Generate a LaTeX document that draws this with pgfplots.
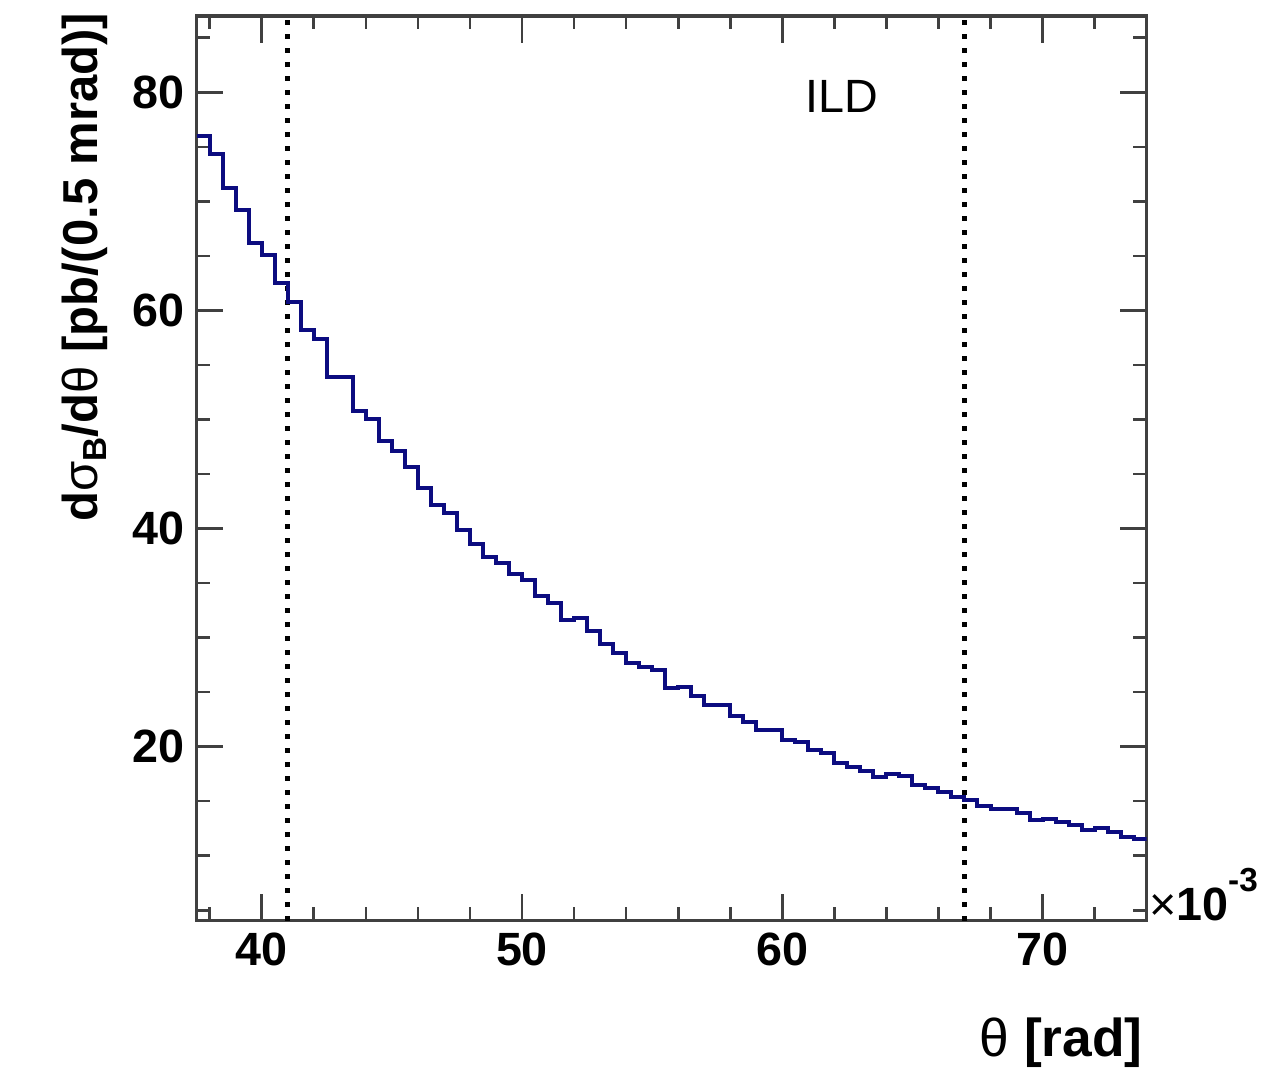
\documentclass[border=0pt]{standalone}
\usepackage{fontspec}
\setmainfont{Liberation Sans}
\usepackage{pgfplots}
\pgfplotsset{compat=1.18}
\definecolor{rootblue}{RGB}{12,12,128}
\pgfplotstableread{
x y
37.5 76.0
38.0 74.3
38.5 71.2
39.0 69.2
39.5 66.2
40.0 65.1
40.5 62.5
41.0 60.8
41.5 58.2
42.0 57.4
42.5 53.9
43.0 53.9
43.5 50.8
44.0 50.0
44.5 48.0
45.0 47.1
45.5 45.6
46.0 43.7
46.5 42.2
47.0 41.4
47.5 39.9
48.0 38.6
48.5 37.4
49.0 36.8
49.5 35.8
50.0 35.3
50.5 33.8
51.0 33.2
51.5 31.6
52.0 31.8
52.5 30.6
53.0 29.4
53.5 28.6
54.0 27.7
54.5 27.3
55.0 27.0
55.5 25.4
56.0 25.5
56.5 24.6
57.0 23.8
57.5 23.8
58.0 22.8
58.5 22.3
59.0 21.5
59.5 21.5
60.0 20.6
60.5 20.4
61.0 19.7
61.5 19.4
62.0 18.5
62.5 18.1
63.0 17.8
63.5 17.2
64.0 17.5
64.5 17.3
65.0 16.5
65.5 16.2
66.0 15.8
66.5 15.4
67.0 15.1
67.5 14.6
68.0 14.3
68.5 14.3
69.0 13.9
69.5 13.3
70.0 13.4
70.5 13.1
71.0 12.8
71.5 12.4
72.0 12.5
72.5 12.2
73.0 11.7
73.5 11.5
74.0 11.5
}\histdata
\begin{document}
\begin{tikzpicture}
\path[use as bounding box] (-59.0pt,-45.7pt) rectangle (327.1pt,276.2pt);
\begin{axis}[
  at={(0,0)}, anchor=south west,
  scale only axis, width=285pt, height=271.4pt,
  xmin=37.5, xmax=74, ymin=4.04, ymax=87,
  xtick={40,50,60,70},
  minor xtick={38,42,44,46,48,52,54,56,58,62,64,66,68,72},
  ytick={20,40,60,80},
  minor ytick={5,10,15,25,30,35,45,50,55,65,70,75,85},
  tick align=inside, xtick pos=both, ytick pos=both,
  major tick length=8pt, minor tick length=4pt,
  axis line style={black!75, line width=1pt},
  every tick/.style={black!75, line width=0.8pt},
  ticklabel style={font=\fontsize{14}{16}\selectfont\bfseries},
  /pgf/number format/assume math mode=true,
]
\addplot[black, line width=1.4pt, dash pattern=on 1.3pt off 2.9pt] coordinates {(41,4.04) (41,87)};
\addplot[black, line width=1.4pt, dash pattern=on 1.3pt off 2.9pt] coordinates {(67,4.04) (67,87)};
\addplot[const plot, rootblue, line width=1.2pt] table[x=x,y=y] {\histdata};
\node[font=\fontsize{14}{16}\selectfont] at (axis cs:62.3,79.6) {ILD};
\end{axis}
\node[rotate=90, anchor=east, inner sep=0pt, font=\fontsize{14.7}{16}\selectfont\bfseries] at (-33.5pt,272.6pt) {d\textmd{σ}\raisebox{-0.35ex}{\fontsize{10}{12}\selectfont B}/d\textmd{θ} [pb/(0.5 mrad)]};
\node[anchor=east, inner sep=0pt, font=\fontsize{16}{18}\selectfont\bfseries] at (284pt,-36.7pt) {\textmd{θ} [rad]};
\node[anchor=base west, font=\fontsize{14}{16}\selectfont\bfseries, inner sep=0pt] at (285.5pt,0pt) {\textmd{×}10\raisebox{1.2ex}{\fontsize{10}{12}\selectfont -3}};
\end{tikzpicture}
\end{document}
